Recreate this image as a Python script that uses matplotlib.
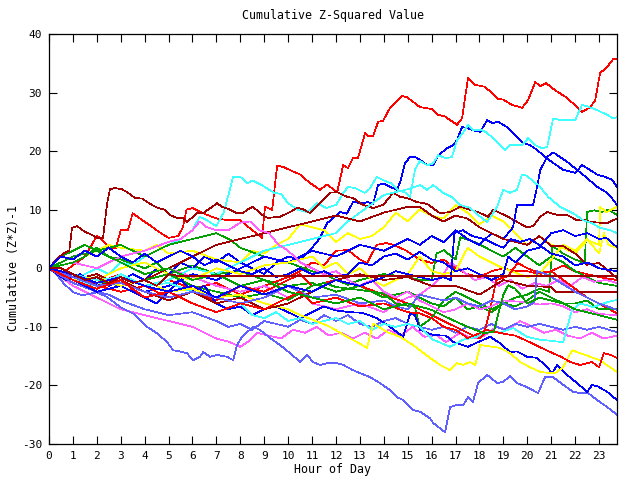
import matplotlib
matplotlib.use('Agg')
import matplotlib.pyplot as plt

# ---- data: each series as hour positions (x) and cumulative (Z*Z)-1 values (y) ----
red1_x = [0, 0.5, 1, 1.5, 2, 2.2, 2.5, 2.8, 3.0, 3.3, 3.5, 3.8, 4.2, 4.6, 5.0, 5.4, 5.6, 5.75, 6.0, 6.5, 7.0, 7.5, 8.0, 8.5,
          8.91, 9.03, 9.33, 9.54, 9.79, 10.5, 10.9, 11.33, 11.63, 12.05, 12.3, 12.5, 12.71, 12.92, 13.22, 13.34, 13.55,
          13.76, 13.97, 14.26, 14.76, 14.97, 15.52, 16.02, 16.27, 16.56, 17.06, 17.27, 17.52, 17.82, 18.23, 18.78, 18.99,
          19.36, 19.78, 20.03, 20.33, 20.54, 20.79, 21.16, 21.66, 22.08, 22.29, 22.63, 22.84, 23.04, 23.34, 23.59, 23.75]
red1_y = [0, -1, 0.5, 2, 5.5, 5, 3.5, 3.5, 6.5, 6.5, 9.4, 8.5, 7.4, 6.2, 5.2, 5.5, 7.0, 10.0, 10.3, 9.3, 8.5, 8.2, 8.2, 6.5,
          5.2, 10.5, 10, 17.5, 17.3, 16, 14.6, 13.4, 14.3, 13, 17.6, 17.1, 18.8, 18.8, 23.1, 22.6, 22.5,
          25, 25.2, 27.4, 29.4, 29.2, 27.5, 27.2, 26.2, 25.9, 24.5, 25.6, 32.5, 31.3, 31, 28.9, 28.8,
          27.9, 27.4, 28.7, 31.8, 31.1, 31.6, 30.4, 29.1, 27.5, 26.7, 27.5, 28.7, 33.3, 34.4, 35.7, 35.8]

cyanA_x = [0, 0.5, 1, 1.5, 2, 2.5, 3, 3.5, 4, 4.5, 5, 5.5, 6, 6.3, 6.6, 7.0, 7.3, 7.5, 7.7, 8.0, 8.3, 8.5, 8.9, 9.4, 9.7,
           10.0, 10.4, 10.8, 11.2, 11.6, 12.0, 12.3, 12.5, 12.8, 13.2, 13.4, 13.7, 14.0, 14.3, 14.6, 14.9, 15.1, 15.3,
           15.5, 15.81, 16.06, 16.27, 16.6, 16.85, 17.06, 17.31, 17.52, 17.73, 18.1, 18.32, 18.65, 19.07, 19.28, 19.78,
           20.03, 20.33, 20.62, 20.83, 21.08, 21.37, 22.0, 22.29, 22.54, 22.92, 23.34, 23.59, 23.75]
cyanA_y = [0, -1, -2, -1, 0, -1, 1, 0.5, 2, 3, 4, 5, 6.5, 8.8, 8.2, 7.2, 9.5, 12.5, 15.6, 15.6, 14.5, 15, 14.2, 12.9, 12.7,
           11.1, 10, 9.6, 11.1, 10.3, 10.8, 12.8, 13.9, 13.7, 12.9, 13.5, 15.6, 15.0, 14.5, 13.3, 12.9, 12.2, 16.8,
           18.3, 17.6, 17.9, 19.3, 18.8, 19, 21.9, 23.1, 24.5, 23.6, 23.6, 23.1, 21.9, 20.2, 21, 21,
           22.2, 21, 20.5, 20.7, 25.6, 25.3, 25.3, 27.9, 27.6, 27, 26.2, 25.6, 25.8]

blueA_x = [0, 0.5, 1, 1.5, 2, 2.5, 3, 3.5, 4, 4.5, 5, 5.5, 6, 6.5, 7, 7.5, 8, 8.5, 9, 9.5, 10, 10.5, 11, 11.3, 11.63,
           12.17, 12.45, 12.71, 13.13, 13.34, 13.55, 13.76, 13.97, 14.26, 14.55, 14.68, 14.89, 15.1, 15.31, 15.52, 15.81,
           16.06, 16.27, 16.65, 16.9, 17.06, 17.27, 17.48, 17.69, 18.03, 18.32, 18.53, 18.78, 19.15, 19.57, 19.82, 20.12,
           20.41, 20.74, 21.08, 21.5, 22.0, 22.29, 22.5, 22.92, 23.25, 23.55, 23.75]
blueA_y = [0, -1.5, -1, -2.5, -1.5, -3, -2, -1, -2, 0, -1, 1, 0, 2, 1, 2.5, 1, 0, -1, 1, 2, 1.5, 3.5, 5, 7.7,
           9.6, 9.3, 11.3, 11.1, 11.3, 11.0, 14.2, 14.5, 13.9, 13.4, 14.7, 18, 19, 19, 18.5, 17.6,
           17.6, 19.3, 20.5, 21, 21.9, 24.1, 24, 23.6, 23.3, 25.3, 24.8, 25, 24.1, 22.4, 21.4, 21,
           20.2, 19, 18, 16.8, 16.3, 17.6, 17.1, 16, 15.6, 15.1, 13.9]

blueB_x = [0, 0.7, 1.3, 2, 3, 4, 5, 6, 7, 8, 9, 10, 11, 12, 13, 14, 15, 15.5, 16, 16.5, 17, 17.5, 18, 18.5, 19, 19.4,
           19.57, 20.24, 20.41, 20.54, 20.83, 21.08, 21.37, 21.66, 22.08, 22.5, 22.92, 23.34, 23.59, 23.75]
blueB_y = [0, -2, -1, -3, -2, -4, -3, -1, -2, 0, 2, 1, 3, 2, 4, 3, 5, 4, 5.5, 4.5, 6.5, 5, 4, 6, 5, 7,
           10.8, 10.8, 13.9, 16.8, 19, 19.8, 19, 18.2, 16.8, 15.4, 13.9, 12.9, 11.7, 10.8]

cyanB_x = [0, 1, 2, 3, 4, 5, 6, 7, 8, 9, 10, 11, 12, 12.5, 13, 13.5, 14, 14.5, 15, 15.52, 15.81, 16.06, 16.48, 16.9,
           17.19, 17.61, 17.94, 18.32, 18.74, 18.99, 19.28, 19.57, 19.78, 19.99, 20.33, 20.45, 20.87, 21.37, 21.92,
           22.33, 22.71, 23.04, 23.46, 23.75]
cyanB_y = [0, -2, -3, -1, -3, -2, 0, -1, 1, 3, 4, 5, 6, 8, 9.5, 11, 12.5, 13, 13.5, 14.2, 13.4, 14.2, 12.9, 12,
           10.8, 10.3, 9.1, 7.9, 10.5, 13.4, 12.9, 13.4, 16, 15.8, 14.5, 14.3, 12.2, 10.5, 9.4,
           8.2, 7.7, 6.9, 6.5, 6]

dr1_x = [0, 0.3, 0.6, 0.85, 0.96, 1.17, 1.51, 1.8, 2.0, 2.26, 2.43, 2.55, 2.76, 3.05, 3.3, 3.6, 3.89, 4.31, 4.56, 4.85,
         5.06, 5.35, 5.6, 5.77, 6.02, 6.19, 6.44, 7.03, 7.24, 7.57, 7.86, 8.11, 8.28, 8.53, 8.91, 9.16, 9.66, 10.08,
         10.37, 10.62, 10.92, 11.33, 11.75, 12.05, 12.46, 12.71, 13.13, 13.55, 13.97, 14.39, 14.68, 14.97, 15.39, 15.81,
         16.35, 16.77, 17.19, 17.61, 17.94, 18.36, 18.57, 19.2, 19.57, 19.99, 20.24, 20.54, 20.83, 21.25, 21.66, 22.08,
         22.33, 22.63, 23.34, 23.59, 23.75]
dr1_y = [0, 1.5, 2.5, 3, 6.9, 7.2, 6.2, 5.7, 5.2, 5.2, 11.1, 13.5, 13.7, 13.5, 12.9, 12, 11.9, 10.8, 10.3, 10,
         9.1, 8.6, 8.6, 7.9, 8.8, 9.4, 9.4, 11.1, 10.5, 10, 9.4, 9.4, 10, 10.5, 9.1, 8.6, 8.8, 9.6,
         10.3, 10.1, 9.4, 11.1, 12.9, 13, 12.2, 12, 10.8, 10.3, 10.8, 12.9, 12.2, 12, 11.3, 11.0,
         9.4, 9.6, 10.5, 10, 9.6, 8.8, 10, 8.8, 7.9, 7, 7.2, 8.8, 9.6, 9.1, 9.1, 8.2,
         8.3, 7.9, 7.7, 8.2, 8.5]

dr2_x = [0, 1, 2, 3, 4, 5, 6, 7, 8, 9, 10, 11, 12, 13, 14, 15, 15.5, 16, 16.5, 17, 17.5, 18, 18.5, 19, 20, 20.5, 21,
         21.5, 22, 22.5, 23, 23.75]
dr2_y = [0, -2, -1, -3, -2, 0, 2, 4, 5, 6, 7, 8, 9, 8, 9.5, 10.5, 10.5, 9, 8, 9, 8.5, 7, 6, 5, 4, 5.5, 3.8,
         3.8, 2.5, 0.6, 0.9, -1.7]

drF1_x = [0, 0.5, 1, 1.5, 2, 2.5, 3, 3.5, 4, 4.5, 5, 5.4, 23.75]
drF1_y = [0, 0, -1, -2, -1.5, -2.5, -1.5, -2.5, -2, -3, -1.0, -1.3, -1.3]

drF2_x = [0, 1, 2, 3, 4, 5, 6, 7, 8, 9, 10, 11, 12, 13, 14, 15, 16, 17, 18, 19, 20, 21, 21.2, 23.75]
drF2_y = [0, -1.5, -3, -2, -4, -5.5, -4, -6, -5, -7, -6, -4, -2, -1, -2, -1.5, -3, -3, -4.5, -2, -3, -3.2, -4.1, -4.1]

sb1_x = [0, 0.3, 0.6, 1.0, 1.42, 2.0, 2.43, 2.97, 3.51, 4.1, 4.52, 4.94, 5.19, 5.48, 5.77, 6.02, 6.32, 6.44, 6.73,
         7.03, 7.44, 7.7, 7.86, 8.07, 8.53, 8.82, 9.24, 9.66, 10.08, 10.5, 10.79, 11.04, 11.33, 11.63, 12.05, 12.3,
         12.71, 13.01, 13.43, 13.84, 14.26, 14.55, 14.81, 15.22, 15.52, 15.93, 16.06, 16.56, 16.77, 16.98, 17.31,
         17.52, 17.73, 17.94, 18.32, 18.74, 18.99, 19.28, 19.57, 19.99, 20.45, 20.74, 21.08, 21.5, 21.92, 22.21,
         22.54, 22.92, 23.34, 23.75]
sb1_y = [0, -1, -2.5, -4.1, -4.6, -4.1, -4.9, -6.6, -7.7, -10, -11.1, -12.6, -14, -14.2, -14.5, -15.7, -15.1, -14.3, -15.1,
         -14.8, -15.1, -15.7, -13.1, -11.7, -10, -10.5, -11.9, -13.1, -14.5, -16, -14.8, -16, -16.5, -16.2, -16.2, -16.5,
         -17.4, -17.9, -18.6, -19.6, -20.8, -22, -22.5, -24.2, -24.5, -25.6, -26.4, -28, -23.7, -23.4, -23.4,
         -22, -22.8, -19.6, -18.2, -19.6, -19.4, -18.4, -19.6, -20.3, -21.3, -18.6, -18.6, -19.9, -21.1, -21.3,
         -21.3, -22.5, -23.7, -25]

sb2_x = [0, 1, 2, 2.5, 3, 4, 5, 6, 7, 7.5, 8, 8.5, 9, 9.5, 10, 10.5, 11, 11.5, 12, 12.5, 13, 13.5, 14, 14.5, 15, 15.5,
         16, 16.5, 17, 17.5, 18, 18.5, 19, 19.5, 20, 20.5, 21, 21.5, 22, 22.5, 23, 23.75]
sb2_y = [0, -2.5, -4, -4.5, -5.5, -7, -8, -7.5, -9, -10, -9.5, -10.5, -9, -9.5, -10, -8.8, -9.5, -8, -9, -8, -9.5, -10,
         -9, -8.5, -9.5, -10, -10.5, -10, -11, -10, -10.5, -9.5, -10.5, -9.5, -10, -9.5, -10, -10.5, -10, -10.5, -10, -10.9]

sb3_x = [0, 1, 2, 3, 4, 5, 6, 7, 8, 9, 10, 11, 12, 13, 14, 14.5, 15, 15.5, 16, 16.5, 17, 17.5, 18, 18.5, 19, 19.5, 20,
         20.3, 20.4, 20.8, 21.2, 21.6, 22, 22.5, 23, 23.75]
sb3_y = [0, -1.5, -3, -2.5, -4, -5, -4, -5, -6, -5, -3, -5, -4.5, -6, -5.5, -6.5, -7, -4.5, -5, -5.5, -5, -6, -6.5, -5.5,
         -6, -7, -6.5, -5.8, -0.5, -1, -2, -3, -4, -5, -6, -7.1]

blueL_x = [0, 1, 2, 3, 4, 4.5, 5, 5.5, 6, 6.5, 7, 7.5, 8, 8.5, 9, 9.5, 10, 10.5, 11, 11.5, 12, 12.6, 13.1, 13.7, 14.26,
           14.81, 15.1, 15.3, 15.52, 16.06, 16.6, 16.9, 17.52, 17.94, 18.45, 18.86, 19.28, 19.57, 19.99, 20.41, 20.83,
           21.04, 21.25, 21.66, 22.08, 22.5, 22.71, 22.96, 23.34, 23.75]
blueL_y = [0, -2, -4, -3, -5, -6, -4, -2, -4, -3, -6, -7, -6.5, -8, -7, -6.5, -7.5, -8.5, -7.5, -6.5, -7.2, -7.5, -7.6,
           -8.5, -10, -11.7, -7.7, -8, -10.5, -11.4, -11.5, -12.6, -13.4, -12.6, -11.7, -12.8, -14.3, -14.2, -15.1,
           -15.3, -16.9, -17.9, -16.5, -18.2, -19.6, -21.1, -19.9, -20.2, -21.1, -22.5]

blueM_x = [0, 0.5, 1, 1.5, 2, 2.5, 3, 3.5, 4, 4.5, 5, 5.5, 6, 6.5, 7, 8, 8.5, 9, 9.5, 10, 10.5, 11, 11.5, 12, 12.5, 13,
           13.5, 14, 14.5, 15, 15.5, 16, 16.5, 17, 17.5, 18, 18.5, 19, 19.2, 19.5, 20, 20.5, 21, 21.5, 22, 22.5, 23,
           23.3, 23.75]
blueM_y = [0, 2, 1.5, 3, 2, 3.5, 2, 1, 2.5, 1, 2, 3, 2, 0.5, 1.5, -0.5, -1, 0, -1.5, -1, 0, -1, -0.5, -1.5, -1, 1,
           0.5, 2, 2.5, 1.5, 2.8, 1.5, 1, -0.5, 0, -1, -2, -1, 2, 1, 3, 3.5, 6, 6.5, 5.5, 6, 5,
           5.2, 3.6]

blueJ_x = [0, 1, 2, 3, 4, 5, 6, 7, 8, 9, 10, 11, 12, 13, 14, 14.5, 15, 15.5, 16, 16.5, 16.8, 16.95, 17.3, 17.7, 18.2,
           18.7, 19, 19.3, 19.7, 20.1, 20.5, 21, 21.5, 22, 22.5, 23, 23.75]
blueJ_y = [0, -1, -2.5, -1.5, -3, -4, -3, -5, -3, -4.5, -3, -4, -2, -3, -1.5, -0.5, -1, -1.5, -2, -1.5, -2, 6, 6.5, 5.5,
           5, 4, 3.5, 5, 4.5, 5, 4, 2.5, 2, 0.5, 1, 0, -0.5]

redM_x = [0, 1, 2, 3, 4, 5, 6, 7, 8, 9, 10, 10.5, 11, 11.5, 12, 12.5, 13, 13.3, 13.7, 14.1, 14.4, 14.9, 15.5, 16, 16.5,
          17, 17.5, 18, 18.5, 19, 19.5, 20, 20.5, 21, 21.5, 22, 22.5, 23, 23.75]
redM_y = [0, -1.5, -2.5, -1, -3, -2, -3.5, -2.5, -4.5, -3, -1.5, -0.5, 1, 0.5, 3, 3.1, 1.5, 0.9, 4, 4.3, 4, 3.1, 1.5,
          0.9, 1.5, 0, -1, -1.5, -0.5, 0, -0.5, -0.5, -1, -0.5, 0.5, -0.5, -1, -1.5, -2]

redJ_x = [0, 1, 2, 3, 4, 5, 6, 7, 8, 9, 10, 10.5, 11, 12, 13, 14, 15, 16, 17, 17.5, 18, 18.2, 18.45, 18.7, 19.2, 19.6,
          20, 20.5, 21, 21.5, 22, 22.5, 23, 23.75]
redJ_y = [0, -1, -3, -4, -3, -5, -4, -5.5, -3, -4, -2, -1, -3, -2, -3, -4.5, -6, -8, -10, -11, -12, -11.1, -7, -2,
          -1.3, 0.9, 0, -0.8, -0.5, -2, -3.5, -5, -6, -7.7]

redL_x = [0, 1, 2, 3, 4, 5, 6, 7, 8, 9, 10, 10.5, 11, 12, 13, 14, 15, 15.5, 16, 16.5, 17, 17.5, 18, 18.3, 18.8, 19.5,
          20.2, 20.8, 21.4, 21.8, 22.2, 22.7, 23.0, 23.2, 23.5, 23.75]
redL_y = [0, -2, -3.5, -2, -5, -4, -6, -7.5, -6, -7, -5, -4, -6, -5, -6.5, -6, -7.5, -7.7, -8.5, -10, -10.5, -11.9,
          -11.1, -10.5, -11, -11.5, -12.8, -14, -15.1, -16, -16.5, -16, -16.9, -14.5, -14.8, -15.3]

cyanC_x = [0, 1, 2, 3, 4, 5, 6, 7, 8, 8.5, 9, 9.5, 10, 10.5, 11, 12, 12.5, 13, 13.5, 14, 14.5, 15, 15.52, 16.06, 16.77,
           17.31, 17.9, 18.32, 18.86, 19.41, 19.99, 20.54, 21.5, 21.87, 22.21, 22.75, 23.34, 23.75]
cyanC_y = [0, -1, -2, -1.5, -3, -2.5, -4, -5, -6, -8, -8.5, -7.5, -9, -8.5, -9.5, -8.5, -9.5, -9, -10.5, -9.5, -10,
           -9.5, -10, -12.2, -13.4, -12.2, -11.7, -10.5, -11, -10.2, -11.7, -12.2, -12.6, -7.1, -6, -6.6, -5.8, -5.4]

mag1_x = [0, 0.5, 1, 1.5, 2, 2.5, 3, 3.5, 4, 4.5, 5, 5.5, 6, 6.5, 7, 7.5, 8, 8.3, 8.7, 9.2, 9.7, 10.2, 10.7, 11.2, 11.7,
          12.2, 12.7, 13.2, 13.7, 14.2, 14.7, 15.2, 15.7, 16.2, 16.6, 17.2, 17.7, 18.2, 18.7, 19.2, 19.7, 20.2, 20.7,
          21.2, 21.7, 22.2, 22.7, 23.2, 23.75]
mag1_y = [0, -1.5, -3, -4, -5, -6, -7, -7.5, -8, -8.5, -9, -9.5, -10, -11, -12, -12.5, -13.4, -12.6, -11, -11.5, -12,
          -10.5, -11, -10, -11.5, -11, -12, -11, -12, -10.5, -11.5, -10, -11.7, -11.4, -12.6, -11, -12, -11.5, -10,
          -10.5, -9, -10, -11, -10.5, -11.5, -12, -11, -12, -11.5]

mag2_x = [0, 1, 2, 3, 4, 5, 6, 7, 8, 9, 10, 10.5, 11, 12, 13, 14, 14.5, 15, 15.5, 16, 16.5, 16.8, 17.3, 17.8, 18.3, 18.8,
          19.3, 19.8, 20.3, 20.8, 21.3, 21.8, 22.3, 22.8, 23.3, 23.75]
mag2_y = [0, -2, -1, -3, -2, 0, -1.5, -3, -4, -3, -5, -4, -6, -7, -6, -7.5, -6, -5, -4.5, -3, -1, 1, -0.5, -2, -1.5, -3,
          -2, -3.5, -2.5, -3, -2, -3, -1.5, -2.3, -2, -2.5]

mag3_x = [0, 1, 2, 3, 4, 5, 5.5, 6, 6.3, 6.6, 7, 7.5, 8, 8.4, 8.8, 9.2, 9.6, 10, 10.5, 11, 11.5, 12, 12.5, 13, 13.5, 14,
          14.5, 15, 15.5, 16, 16.5, 17, 17.5, 18, 18.5, 19, 20, 20.5, 21, 21.5, 22, 22.5, 23, 23.75]
mag3_y = [0, 1, 0, 2, 3, 4.5, 5, 6.5, 8, 7, 6.5, 6.5, 7.8, 8, 6.5, 6, 4, 3, 1, 0, -1, -0.5, -2, -3, -2, -4,
          -5, -4, -5.5, -6.5, -7.5, -7, -6, -7, -6.5, -5.5, -5.8, -6.2, -6, -6.5, -7.5, -7, -7.8, -8]

yHi_x = [0, 1, 2, 2.5, 3, 4, 4.5, 5, 6, 7, 8, 8.5, 9, 9.5, 10, 10.5, 11, 11.5, 12, 12.5, 13, 13.5, 14, 14.5, 15, 15.5,
         16, 16.5, 17, 17.5, 18, 18.5, 19, 19.5, 20, 20.5, 21, 21.5, 22, 22.5, 23, 23.05, 23.3, 23.5, 23.75]
yHi_y = [0, 1, 3, 4, 3.5, 3, 4, 2.5, 3, 1.5, 1, 3, 2.5, 4, 5, 7.5, 7, 6.5, 4.5, 6, 5, 5.5, 7, 9.5, 8, 10,
         9, 8.5, 10.8, 9.5, 7.5, 9, 8, 6, 4, 5.5, 4, 3.5, 2.5, 4.8, 4, 10.5, 9.5, 10, 10.5]

y2_x = [0, 1, 2, 3, 4, 5, 6, 7, 8, 9, 10, 11, 11.5, 12, 12.5, 13, 13.5, 14, 15, 15.5, 16, 16.5, 17, 17.5, 18, 18.5, 19,
        20, 20.5, 21, 21.5, 22, 22.5, 23, 23.2, 23.4, 23.75]
y2_y = [0, -1, -2, 0, 1, -1, -2, 0, -1, 0.5, 1, 2, 0, 1, -1, 0, -2, -3, -1, 2, -0.5, -1, -0.5, 3.5, 2, 1, 0,
        -1.5, -1, 1.5, 4, 3, 5, 2.5, 6, 4, 3.5]

yLow_x = [0, 1, 2, 3, 4, 5, 6, 7, 8, 9, 10, 10.5, 11.04, 11.75, 12.46, 12.88, 13.3, 13.55, 14.14, 14.68, 15.22, 15.93,
          16.35, 16.77, 17.06, 17.31, 17.61, 17.82, 18.03, 18.53, 18.86, 19.28, 19.7, 20.12, 20.54, 20.95, 21.16, 21.5,
          21.87, 22.21, 22.63, 23.04, 23.46, 23.75]
yLow_y = [0, -2, -1.5, -3, -2, -4, -3.5, -5, -4.5, -6, -7, -8, -8.8, -10, -11.7, -12.6, -13.6, -9.4, -10.9, -11.7, -13.1,
          -15.3, -16.5, -17.4, -16.2, -16.5, -16, -16.5, -13.1, -13.4, -13.6, -14.5, -16, -16.9, -17.7, -17.9, -17.9,
          -16.9, -14, -14.5, -15.1, -15.7, -16.9, -17.7]

g1_x = [0, 0.5, 1, 1.5, 2, 2.5, 3, 4, 4.5, 5, 6, 7, 8, 9, 10, 11, 12, 13, 14, 15, 16, 16.5, 17, 17.5, 18, 18.5, 19,
        19.5, 20, 20.5, 20.9, 21.05, 21.5, 22, 22.4, 22.5, 22.8, 23.1, 23.4, 23.75]
g1_y = [0, 2, 3, 4, 3, 2, 1.5, 0, 1, -1, 0.5, -1, -0.5, -2, -3, -2.5, -4, -3, -5, -4, -6, -6.5, -5, -7, -6.5, -7.5, -6,
        -5, -4.5, -3.5, -4, 3.8, 2.5, 1.5, 0.9, 9.6, 9.9, 9.6, 10, 9.1]

g2_x = [0, 1, 2, 3, 4, 5, 6, 7, 7.6, 8, 9, 10, 11, 11.5, 12, 12.5, 13, 14, 15, 15.5, 16, 16.2, 16.5, 17, 17.2, 17.8,
        18.5, 19, 19.5, 20, 20.5, 21, 21.5, 22, 22.5, 23, 23.75]
g2_y = [0, 2, 3, 4, 2, 4, 5, 6, 4.8, 3.5, 2, 1, -0.5, -1, -2, -2.8, -2, -1, -1.5, -2, -2, 2.5, 3.1, 1.5, 5.3, 4.5,
        3, 2, 3.5, 2, 0.5, 2, 1, -0.5, -1.5, -2.5, -3]

g3_x = [0, 1, 2, 3, 4, 5, 6, 7, 8, 9, 10, 11, 11.5, 12, 13, 14, 14.5, 15.3, 15.5, 16, 16.5, 17, 17.5, 18, 18.5, 19,
        19.5, 20, 20.5, 21, 21.5, 22, 22.5, 23, 23.75]
g3_y = [0, -1, -2, -3, -2, -1, -3, -4, -5, -4.3, -5.4, -3, -2.5, -3.2, -3.7, -4.3, -6, -6.6, -10, -8.5, -5.5, -4, -5,
        -6, -7, -6, -6.5, -5.5, -4, -5, -6, -6, -5.5, -7, -7]

gJ_x = [0, 1, 1.5, 2, 2.5, 3, 4, 5, 6, 7, 8, 9, 10, 11, 12, 13, 14, 15, 16, 16.7, 17.5, 18.2, 18.6, 18.8, 19.0, 19.2,
        19.5, 20, 20.5, 21, 21.5, 22, 22.5, 23, 23.75]
gJ_y = [0, 1, 2, 3.5, 2, 1, -1, 0, -2, -1, -3, -2, -4, -5, -6, -5, -7, -6, -7.1, -8.5, -10, -11.1, -10.8, -7.5, -4.5,
        -2.9, -3.5, -6, -5, -5.5, -6, -7, -7.5, -8, -8.8]

RED, DRED, GREEN, BLUE = '#ff0000', '#a00000', '#00a000', '#0000ff'
MAG, CYAN, YEL, SLATE = '#ff60ff', '#40ffff', '#ffff00', '#6060ff'

series = [
    (red1_x, red1_y, RED), (g1_x, g1_y, GREEN), (blueA_x, blueA_y, BLUE), (mag1_x, mag1_y, MAG),
    (cyanA_x, cyanA_y, CYAN), (yHi_x, yHi_y, YEL), (dr1_x, dr1_y, DRED), (sb1_x, sb1_y, SLATE),
    (redM_x, redM_y, RED), (g2_x, g2_y, GREEN), (blueB_x, blueB_y, BLUE), (mag2_x, mag2_y, MAG),
    (cyanB_x, cyanB_y, CYAN), (y2_x, y2_y, YEL), (dr2_x, dr2_y, DRED), (sb2_x, sb2_y, SLATE),
    (redJ_x, redJ_y, RED), (g3_x, g3_y, GREEN), (blueL_x, blueL_y, BLUE), (mag3_x, mag3_y, MAG),
    (cyanC_x, cyanC_y, CYAN), (yLow_x, yLow_y, YEL), (drF2_x, drF2_y, DRED), (sb3_x, sb3_y, SLATE),
    (redL_x, redL_y, RED), (gJ_x, gJ_y, GREEN), (blueM_x, blueM_y, BLUE), (blueJ_x, blueJ_y, BLUE),
    (drF1_x, drF1_y, DRED),
]

hours = list(range(24))
yticks = [-30, -20, -10, 0, 10, 20, 30, 40]

FONT = 'DejaVu Sans Mono'
fig = plt.figure(figsize=(6.4, 4.8), dpi=100)
ax = fig.add_axes([49 / 640, 36 / 480, 568 / 640, 410 / 480])
for xs, ys, c in series:
    ax.plot(xs, ys, color=c, lw=0.5, antialiased=False)

ax.set_xlim(0, 23.75)
ax.set_ylim(-30, 40)
ax.set_xticks(hours)
ax.set_xticklabels([str(h) for h in hours], family=FONT, fontsize=8)
ax.set_yticks(yticks)
ax.set_yticklabels([str(v) for v in yticks], family=FONT, fontsize=8)
ax.tick_params(direction='in', length=6, width=0.8, top=True, right=True, pad=5)
for s in ax.spines.values():
    s.set_linewidth(0.9)

fig.text(333 / 640, 1 - 16 / 480, 'Cumulative Z-Squared Value', ha='center', va='center', family=FONT, fontsize=8.4)
fig.text(333 / 640, 1 - 470 / 480, 'Hour of Day', ha='center', va='center', family=FONT, fontsize=8.4)
fig.text(14 / 640, 1 - 268 / 480, 'Cumulative (Z*Z)-1', ha='center', va='center', rotation=90, family=FONT, fontsize=8.4)

fig.savefig('out.png', dpi=100)
